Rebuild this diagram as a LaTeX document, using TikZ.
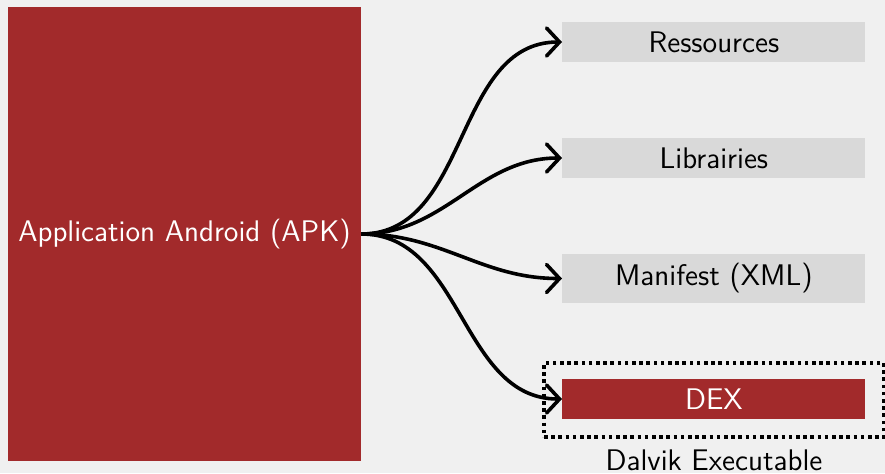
\documentclass[tikz,border=0pt]{standalone}
\usepackage{tikz}
\usetikzlibrary{arrows.meta, positioning}
\definecolor{apkred}{RGB}{162,42,43}
\definecolor{boxgray}{RGB}{217,217,217}
\definecolor{bggray}{RGB}{240,240,240}

\begin{document}
\begin{tikzpicture}[x=0.5pt, y=-0.5pt, font=\sffamily\fontsize{14.9}{18}\selectfont,
    part/.style={fill=boxgray, minimum width=151.5pt, inner ysep=4.8pt, anchor=west},
    link/.style={-{Straight Barb[length=6.5pt,width=14pt,line cap=round]}, line width=1.8pt, out=0, in=180}]
    % background
    \fill[bggray] (0,0) rectangle (885,473);
    \useasboundingbox (0,0) rectangle (885,473);

    % the APK itself
    \node[fill=apkred, text=white, minimum width=176.5pt, minimum height=227pt, inner sep=0pt] (apk) at (184.5,234) {Application Android (APK)};

    % what is packed inside
    \node[part] (res) at (562,42) {Ressources};
    \node[part] (lib) at (562,158) {Librairies};
    \node[part] (man) at (562,278.5) {Manifest (XML)};
    \node[part, fill=apkred, text=white] (dex) at (562,399) {DEX};

    % dotted frame round the DEX, with its caption
    \node[draw, line width=1.8pt, dash pattern=on 1.8pt off 1.8pt, minimum width=170pt, minimum height=37pt] (dalvik) at (714,400) {};
    \node[anchor=base] (dalviklabel) at (714,470) {Dalvik Executable};

    % links from the APK
    \foreach \part in {res, lib, man, dex}
        \draw[link] (apk.east) to (\part.west);
\end{tikzpicture}
\end{document}
